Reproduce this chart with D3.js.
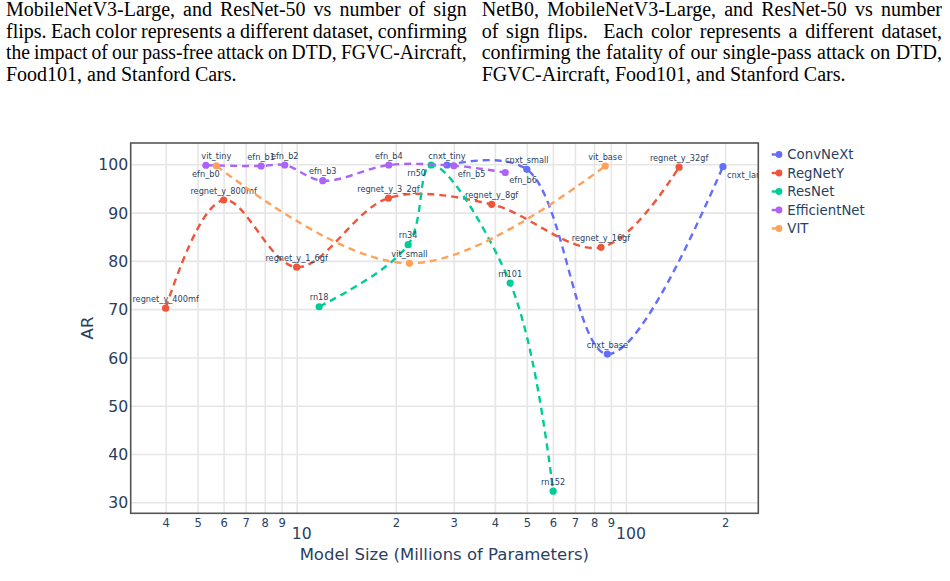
<!DOCTYPE html>
<html>
<head>
<meta charset="utf-8">
<script src="https://cdn.jsdelivr.net/npm/d3@7/dist/d3.min.js"></script>
<style>
  html, body { margin: 0; padding: 0; background: #fff; }
  svg { display: block; }
</style>
</head>
<body>
<svg id="chart" width="950" height="581"></svg>
<script>
// ---------------- DATA ----------------
const seriesNames = ["ConvNeXt", "RegNetY", "ResNet", "EfficientNet", "VIT"];

const convnextModels = ["cnxt_tiny", "cnxt_small", "cnxt_base", "cnxt_large"];
const convnextParams = [28.6, 50.0, 87.8, 197];
const convnextAR     = [99.85, 98.95, 60.7, 99.5];

const regnetModels = ["regnet_y_400mf", "regnet_y_800mf", "regnet_y_1_6gf", "regnet_y_3_2gf", "regnet_y_8gf", "regnet_y_16gf", "regnet_y_32gf"];
const regnetParams = [4.0, 6.0, 10.0, 19.0, 39.1, 84.0, 145];
const regnetAR     = [70.2, 92.6, 78.7, 93.0, 91.7, 82.8, 99.4];

const resnetModels = ["rn18", "rn34", "rn50", "rn101", "rn152"];
const resnetParams = [11.7, 21.8, 25.6, 44.5, 60.1];
const resnetAR     = [70.5, 83.35, 99.85, 75.4, 32.3];

const effnetModels = ["efn_b0", "efn_b1", "efn_b2", "efn_b3", "efn_b4", "efn_b5", "efn_b6"];
const effnetParams = [5.3, 7.8, 9.2, 12.0, 19.05, 30.0, 43.0];
const effnetAR     = [99.8, 99.65, 99.85, 96.6, 99.85, 99.7, 98.3];

const vitModels = ["vit_tiny", "vit_small", "vit_base"];
const vitParams = [5.7, 22.0, 86.5];
const vitAR     = [99.7, 79.5, 99.65];

const xTickValues = [4, 5, 6, 7, 8, 9, 10, 20, 30, 40, 50, 60, 70, 80, 90, 100, 200];
const xTickLabels = ["4", "5", "6", "7", "8", "9", "10", "2", "3", "4", "5", "6", "7", "8", "9", "100", "2"];
const yTickValues = [30, 40, 50, 60, 70, 80, 90, 100];

const xTitle = "Model Size (Millions of Parameters)";
const yTitle = "AR";

const leftColumnLines = [
  "MobileNetV3-Large, and ResNet-50 vs number of sign",
  "flips. Each color represents a different dataset, confirming",
  "the impact of our pass-free attack on DTD, FGVC-Aircraft,",
  "Food101, and Stanford Cars."
];
const rightColumnLines = [
  "NetB0, MobileNetV3-Large, and ResNet-50 vs number",
  "of sign flips.  Each color represents a different dataset,",
  "confirming the fatality of our single-pass attack on DTD,",
  "FGVC-Aircraft, Food101, and Stanford Cars."
];

// ---------------- STYLE ----------------
const colors = {ConvNeXt: "#636efa", RegNetY: "#EF553B", ResNet: "#00cc96", EfficientNet: "#ab63fa", VIT: "#FFA15A"};
// label placement (non-default ones); default is "top"
const labelPlacement = {efn_b0: "bottom", rn50: "bottomleft", efn_b5: "bottomright", efn_b6: "bottomright", cnxt_large: "bottomright"};
const textColor = "#2a3f5f";
const font = "'DejaVu Sans', Verdana, sans-serif";

const series = [
  {name: "ConvNeXt", models: convnextModels, x: convnextParams, y: convnextAR},
  {name: "RegNetY", models: regnetModels, x: regnetParams, y: regnetAR},
  {name: "ResNet", models: resnetModels, x: resnetParams, y: resnetAR},
  {name: "EfficientNet", models: effnetModels, x: effnetParams, y: effnetAR},
  {name: "VIT", models: vitModels, x: vitParams, y: vitAR}
];

const svg = d3.select("#chart");
svg.append("rect").attr("width", 950).attr("height", 581).attr("fill", "#fff");

// ---------------- PAPER TEXT ----------------
function justifiedLines(lines, x0, x1, baselines) {
  lines.forEach((line, i) => {
    const t = svg.append("text")
      .attr("x", x0).attr("y", baselines[i])
      .attr("font-family", "'Liberation Serif', 'Times New Roman', serif")
      .attr("font-size", 20).attr("fill", "#000")
      .style("white-space", "pre")
      .text(line);
    if (i < lines.length - 1) {
      const w = t.node().getComputedTextLength();
      const spaces = (line.match(/ /g) || []).length;
      const target = x1 - x0;
      let ws = (target - w) / spaces;
      if (ws >= -0.8) {
        t.attr("word-spacing", ws);
      } else {
        // squeeze slightly instead of cramming the word gaps
        t.attr("word-spacing", -0.8);
        const w2 = w - 0.8 * spaces;
        const sx = target / w2;
        t.attr("transform", `translate(${x0},0) scale(${sx},1) translate(${-x0},0)`);
      }
    }
  });
}
const baselines = [16, 37.5, 59.3, 81];
justifiedLines(leftColumnLines, 6, 466.7, baselines);
justifiedLines(rightColumnLines, 481.7, 942, baselines);

// ---------------- SCALES ----------------
const plot = {left: 130.7, right: 758.3, top: 143, bottom: 513.3};
const x = d3.scaleLog().domain([3.133, 252.3]).range([plot.left, plot.right]);
const y = d3.scaleLinear().domain([27.72, 104.41]).range([plot.bottom, plot.top]);

svg.append("defs").append("clipPath").attr("id", "plotclip")
  .append("rect").attr("x", plot.left).attr("y", plot.top)
  .attr("width", plot.right - plot.left).attr("height", plot.bottom - plot.top);

// gridlines via axes
const gridColor = "#e6e6e6";
svg.append("g").attr("transform", `translate(0,${plot.bottom})`)
  .call(d3.axisBottom(x).tickValues(xTickValues).tickSize(-(plot.bottom - plot.top)).tickFormat(""))
  .call(g => g.select(".domain").remove())
  .call(g => g.selectAll("line").attr("stroke", gridColor).attr("stroke-width", 1.6));
svg.append("g").attr("transform", `translate(${plot.left},0)`)
  .call(d3.axisLeft(y).tickValues(yTickValues).tickSize(-(plot.right - plot.left)).tickFormat(""))
  .call(g => g.select(".domain").remove())
  .call(g => g.selectAll("line").attr("stroke", gridColor).attr("stroke-width", 1.6));

// tick labels
const xAxisLabels = svg.append("g").attr("transform", `translate(0,${plot.bottom})`)
  .call(d3.axisBottom(x).tickValues(xTickValues).tickSize(0)
    .tickFormat(d => xTickLabels[xTickValues.indexOf(d)]));
xAxisLabels.select(".domain").remove();
xAxisLabels.selectAll("text")
  .attr("font-family", font).attr("fill", textColor)
  .each(function(d) {
    const major = (d === 10 || d === 100);
    d3.select(this)
      .attr("font-size", major ? 15.7 : 11.5)
      .attr("dy", null)
      .attr("y", major ? 26 : 13.4)
      .attr("x", major ? 4.5 : 0);
  });

const yAxisLabels = svg.append("g").attr("transform", `translate(${plot.left - 2.5},0)`)
  .call(d3.axisLeft(y).tickValues(yTickValues).tickSize(0).tickPadding(0));
yAxisLabels.select(".domain").remove();
yAxisLabels.selectAll("text")
  .attr("font-family", font).attr("font-size", 15.7).attr("fill", textColor)
  .attr("dy", "0.36em");

// frame
svg.append("rect").attr("x", plot.left).attr("y", plot.top)
  .attr("width", plot.right - plot.left).attr("height", plot.bottom - plot.top)
  .attr("fill", "none").attr("stroke", "#555").attr("stroke-width", 1.6);

// axis titles
svg.append("text").attr("x", 444.3).attr("y", 560)
  .attr("text-anchor", "middle").attr("font-family", font).attr("font-size", 16.5)
  .attr("fill", textColor).text(xTitle);
svg.append("text").attr("transform", "translate(92.5,328) rotate(-90)")
  .attr("text-anchor", "middle").attr("font-family", font).attr("font-size", 16.5)
  .attr("fill", textColor).text(yTitle);

// ---------------- PLOTLY-LIKE SPLINE CURVE ----------------
function makeTangent(p0, p1, p2, s) {
  const d1x = p0[0] - p1[0], d1y = p0[1] - p1[1];
  const d2x = p2[0] - p1[0], d2y = p2[1] - p1[1];
  const d1a = Math.pow(d1x * d1x + d1y * d1y, 0.25);
  const d2a = Math.pow(d2x * d2x + d2y * d2y, 0.25);
  const numx = (d2a * d2a * d1x - d1a * d1a * d2x) * s;
  const numy = (d2a * d2a * d1y - d1a * d1a * d2y) * s;
  const den1 = 3 * d2a * (d1a + d2a), den2 = 3 * d1a * (d1a + d2a);
  return [[p1[0] + (den1 && numx / den1), p1[1] + (den1 && numy / den1)],
          [p1[0] - (den2 && numx / den2), p1[1] - (den2 && numy / den2)]];
}
function PlotlySpline(context) { this._context = context; }
PlotlySpline.prototype = {
  areaStart() {}, areaEnd() {},
  lineStart() { this._pts = []; },
  point(px, py) { this._pts.push([+px, +py]); },
  lineEnd() {
    const p = this._pts, c = this._context;
    if (!p.length) return;
    c.moveTo(p[0][0], p[0][1]);
    if (p.length < 3) { for (let i = 1; i < p.length; i++) c.lineTo(p[i][0], p[i][1]); return; }
    const t = [];
    for (let i = 1; i < p.length - 1; i++) t.push(makeTangent(p[i - 1], p[i], p[i + 1], 1));
    c.quadraticCurveTo(t[0][0][0], t[0][0][1], p[1][0], p[1][1]);
    for (let i = 2; i < p.length - 1; i++) {
      c.bezierCurveTo(t[i - 2][1][0], t[i - 2][1][1], t[i - 1][0][0], t[i - 1][0][1], p[i][0], p[i][1]);
    }
    const last = t[p.length - 3][1];
    c.quadraticCurveTo(last[0], last[1], p[p.length - 1][0], p[p.length - 1][1]);
  }
};
const plotlySpline = ctx => new PlotlySpline(ctx);

// ---------------- TRACES ----------------
const gPlot = svg.append("g").attr("clip-path", "url(#plotclip)");
const line = d3.line().x(d => x(d.x)).y(d => y(d.y)).curve(plotlySpline);

series.forEach(s => {
  const pts = s.x.map((v, i) => ({x: v, y: s.y[i], label: s.models[i]}));
  const g = gPlot.append("g");
  g.append("path").datum(pts).attr("d", line)
    .attr("fill", "none").attr("stroke", colors[s.name]).attr("stroke-width", 2.4)
    .attr("stroke-dasharray", "7,5");
  g.selectAll("circle").data(pts).join("circle")
    .attr("cx", d => x(d.x)).attr("cy", d => y(d.y)).attr("r", 3.6)
    .attr("fill", colors[s.name]);
  g.selectAll("text").data(pts).join("text")
    .attr("font-family", font).attr("font-size", 8.2).attr("fill", textColor)
    .each(function(d) {
      const pos = labelPlacement[d.label] || "top";
      const el = d3.select(this).text(d.label);
      let tx = x(d.x), ty = y(d.y), anchor = "middle";
      if (pos === "top") { ty -= 6.3; }
      else if (pos === "bottom") { ty += 11.3; }
      else if (pos === "bottomright") { ty += 10.8; tx += 4; anchor = "start"; }
      else if (pos === "bottomleft") { ty += 10.8; tx -= 5; anchor = "end"; }
      el.attr("x", tx).attr("y", ty).attr("text-anchor", anchor);
    });
});

// ---------------- LEGEND ----------------
const legend = svg.append("g");
const legendBaselines = [159.3, 177.8, 196.3, 214.8, 233.3];
seriesNames.forEach((name, i) => {
  const by = legendBaselines[i];
  const cy = by - 4.8;
  legend.append("line").attr("x1", 771.7).attr("x2", 779).attr("y1", cy).attr("y2", cy)
    .attr("stroke", colors[name]).attr("stroke-width", 2.4);
  legend.append("circle").attr("cx", 779).attr("cy", cy).attr("r", 3.4).attr("fill", colors[name]);
  legend.append("text").attr("x", 787.3).attr("y", by)
    .attr("font-family", font).attr("font-size", 13.3).attr("fill", textColor).text(name);
});
</script>
</body>
</html>
